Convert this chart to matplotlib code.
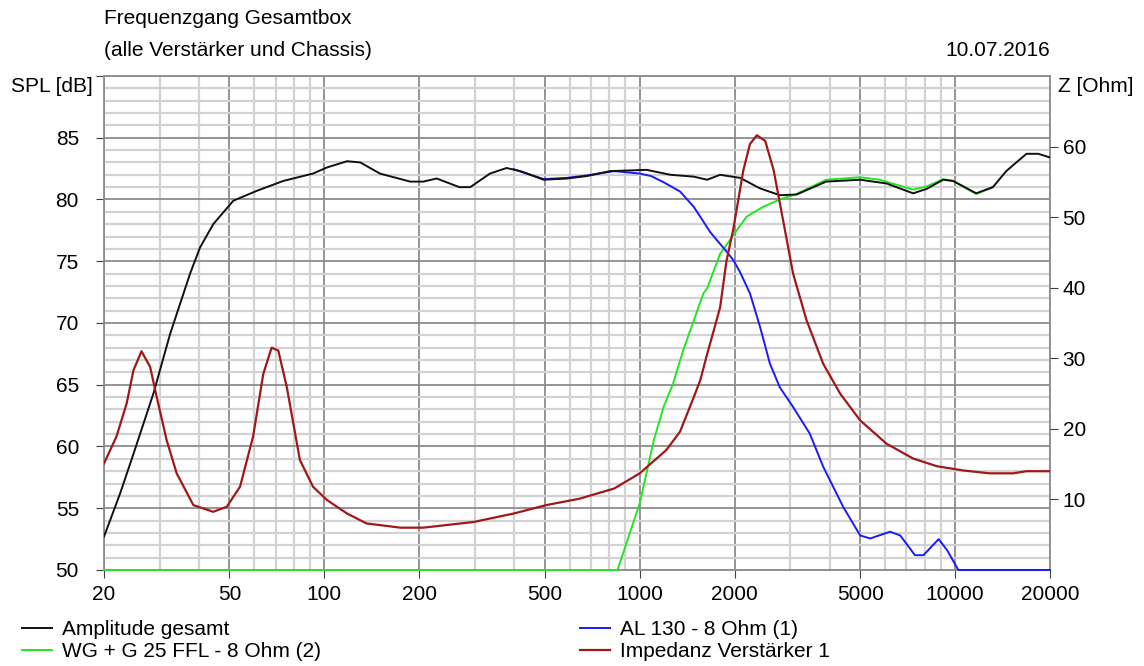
import numpy as np
import matplotlib
matplotlib.use("Agg")
import matplotlib.pyplot as plt
from matplotlib.ticker import FixedLocator, NullFormatter

plt.rcParams['font.family'] = ['Liberation Sans', 'DejaVu Sans']

# Amplitude gesamt (SPL, dB)
f_total = [20, 22.5, 24.8, 28.7, 32.4, 37.5, 40.3, 44.4, 51.4, 61, 74, 92, 102, 118, 130,
           150, 187, 206, 227, 268, 290, 335, 378, 418, 496, 588, 680, 806, 1052, 1252,
           1484, 1636, 1798, 2082, 2406, 2780, 3140, 3900, 5000, 6060, 7360, 8110, 9170,
           9860, 11670, 13180, 14530, 16840, 18370, 20000]
spl_total = [52.7, 56.2, 59.4, 64.3, 69.1, 74.0, 76.1, 78.0, 79.9, 80.7, 81.5, 82.1, 82.6, 83.1, 83.0,
             82.1, 81.45, 81.45, 81.7, 81.0, 81.0, 82.1, 82.55, 82.3, 81.6, 81.7, 81.9, 82.3, 82.4, 82.0,
             81.85, 81.6, 82.0, 81.75, 80.9, 80.35, 80.4, 81.45, 81.6, 81.3, 80.5, 80.85, 81.6,
             81.5, 80.5, 81.0, 82.3, 83.7, 83.7, 83.4]

# AL 130 - 8 Ohm (1)
f_al = [398, 496, 588, 680, 830, 1000, 1086, 1190, 1342, 1484, 1556, 1674, 1798, 1842, 1980,
        2082, 2236, 2406, 2588, 2780, 3064, 3460, 3820, 4420, 5000, 5380, 6220, 6700, 7460,
        7940, 8870, 9440, 10240, 20000]
spl_al = [82.45, 81.65, 81.75, 81.95, 82.3, 82.1, 81.9, 81.4, 80.65, 79.4, 78.6, 77.35, 76.4, 76.1, 75.1,
          74.1, 72.4, 69.7, 66.7, 64.8, 63.2, 61.05, 58.35, 55.1, 52.8, 52.55, 53.1, 52.8, 51.2,
          51.2, 52.5, 51.6, 50.0, 50.0]

# WG + G 25 FFL - 8 Ohm (2)
f_wg = [20, 850, 1000, 1108, 1190, 1276, 1374, 1484, 1592, 1636, 1798, 1980, 2180, 2460,
        2780, 3140, 3900, 5000, 5760, 7360, 8110, 9170, 9860, 11670, 13180]
spl_wg = [50.0, 50.0, 55.4, 60.5, 63.2, 65.1, 67.8, 70.2, 72.4, 72.8, 75.6, 77.1, 78.6, 79.4,
          80.0, 80.45, 81.6, 81.8, 81.6, 80.8, 81.05, 81.65, 81.5, 80.45, 81.0]

# Impedanz Verstärker 1 (Ohm)
f_imp = [20, 21.9, 23.6, 24.8, 26.3, 28.0, 29.4, 31.6, 34.0, 38.4, 44.4, 49, 54, 59.4, 64, 68,
         71.4, 76, 83.6, 92, 102, 118, 136, 174, 206, 297, 398, 506, 644, 830, 1000, 1214,
         1342, 1484, 1556, 1636, 1716, 1798, 1884, 1980, 2130, 2236, 2352, 2500, 2660, 2850,
         3064, 3380, 3820, 4320, 5000, 6060, 7360, 8760, 10630, 12860, 15280, 16840, 20000]
z_imp = [15.1, 18.9, 23.6, 28.3, 31.0, 28.8, 24.5, 18.4, 13.7, 9.2, 8.25, 8.95, 11.8, 18.9, 27.8, 31.5,
         31.1, 25.9, 15.6, 11.8, 9.9, 8.0, 6.6, 6.0, 6.0, 6.8, 8.0, 9.2, 10.1, 11.55, 13.7, 17.0,
         19.6, 24.5, 26.9, 30.6, 33.9, 37.2, 43.8, 48.3, 56.6, 60.35, 61.6, 60.8, 56.6, 49.5,
         42.0, 35.4, 29.2, 25.0, 21.2, 17.9, 15.8, 14.7, 14.1, 13.7, 13.7, 14.0, 14.0]

x_major = [20, 50, 100, 200, 500, 1000, 2000, 5000, 10000, 20000]
x_minor = [30, 40, 60, 70, 80, 90, 300, 400, 600, 700, 800, 900,
           3000, 4000, 6000, 7000, 8000, 9000]

fig = plt.figure(figsize=(11.44, 6.66), dpi=100)
ax = fig.add_axes([104 / 1144, 1 - 570 / 666, 946 / 1144, 494 / 666])

c_green = '#22e622'
c_blue = '#1a1aff'
c_red = '#a01818'
fs = 15

ax.set_xscale('log')
ax.set_xlim(20, 20000)
ax.set_ylim(50, 90)

ax.xaxis.set_major_locator(FixedLocator(x_major))
ax.xaxis.set_minor_locator(FixedLocator(x_minor))
ax.set_xticklabels([str(v) for v in x_major])
ax.xaxis.set_minor_formatter(NullFormatter())
ax.set_yticks([50, 55, 60, 65, 70, 75, 80, 85, 90])
ax.set_yticklabels(['50', '55', '60', '65', '70', '75', '80', '85', ''])
ax.yaxis.set_minor_locator(FixedLocator([v for v in range(50, 91) if v % 5]))

ax.grid(which='minor', color='#d2d2d2', lw=1.6)
ax.grid(which='major', color='#8c8c8c', lw=1.3)
ax.set_axisbelow(True)
ax.tick_params(which='minor', length=0)
ax.tick_params(axis='x', which='major', length=6, color='#404040', labelsize=fs, pad=5)
ax.tick_params(axis='y', which='major', length=6, color='#404040', labelsize=fs, pad=12)
for s in ax.spines.values():
    s.set_color('#8c8c8c')
    s.set_linewidth(1.3)

ax2 = ax.twinx()
ax2.set_ylim(0, 70)
ax2.set_yticks([10, 20, 30, 40, 50, 60])
ax2.tick_params(axis='y', length=6, color='#404040', labelsize=fs, pad=3)
for s in ax2.spines.values():
    s.set_visible(False)

l_green, = ax.plot(f_wg, spl_wg, color=c_green, lw=1.4, clip_on=False, zorder=3)
l_blue, = ax.plot(f_al, spl_al, color=c_blue, lw=1.4, clip_on=False, zorder=4)
l_black, = ax.plot(f_total, spl_total, color='#111111', lw=1.4, zorder=5)
l_red, = ax2.plot(f_imp, z_imp, color=c_red, lw=1.6)

fig.text(104 / 1144, 1 - 18 / 666, 'Frequenzgang Gesamtbox', fontsize=fs, va='center', ha='left')
fig.text(104 / 1144, 1 - 50 / 666, '(alle Verstärker und Chassis)', fontsize=fs, va='center', ha='left')
fig.text(1050 / 1144, 1 - 50 / 666, '10.07.2016', fontsize=fs, va='center', ha='right')
fig.text(93 / 1144, 1 - 86 / 666, 'SPL [dB]', fontsize=fs, va='center', ha='right')
fig.text(1058 / 1144, 1 - 86 / 666, 'Z [Ohm]', fontsize=fs, va='center', ha='left')

leg_kw = dict(frameon=False, fontsize=fs, handlelength=1.45, handletextpad=0.45,
              labelspacing=0.15, borderpad=0, borderaxespad=0, loc='upper left')
fig.legend([l_black, l_green], ['Amplitude gesamt', 'WG + G 25 FFL - 8 Ohm (2)'],
           bbox_to_anchor=(22 / 1144, 1 - 620 / 666), **leg_kw)
fig.legend([l_blue, l_red], ['AL 130 - 8 Ohm (1)', 'Impedanz Verstärker 1'],
           bbox_to_anchor=(580 / 1144, 1 - 620 / 666), **leg_kw)

fig.savefig('out.png', dpi=100, facecolor='white')
